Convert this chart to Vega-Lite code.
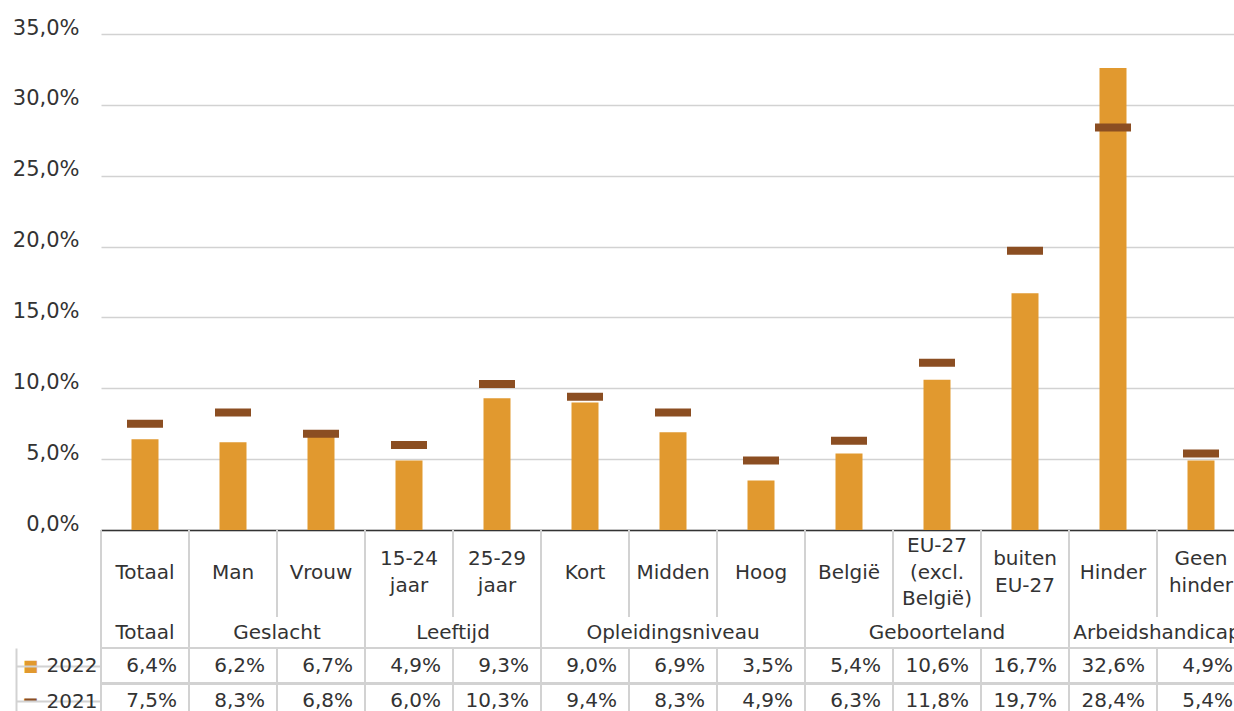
{
  "$schema": "https://vega.github.io/schema/vega-lite/v6.json",
  "autosize": {"type": "pad"},
  "padding": {"left": 12, "top": 17, "right": 0, "bottom": 0},
  "background": "white",
  "bounds": "flush",
  "spacing": 0,
  "config": {
    "view": {"stroke": null},
    "font": "DejaVu Sans",
    "locale": {"number": {"decimal": ",", "thousands": ".", "grouping": [3], "currency": ["€", ""]}},
    "axis": {"labelFont": "DejaVu Sans", "labelColor": "#333333"}
  },
  "datasets": {
    "cats": [
      {"cat": "Totaal", "label": ["Totaal"], "group": "Totaal", "2022": 0.064, "2021": 0.075},
      {"cat": "Man", "label": ["Man"], "group": "Geslacht", "2022": 0.062, "2021": 0.083},
      {"cat": "Vrouw", "label": ["Vrouw"], "group": "Geslacht", "2022": 0.067, "2021": 0.068},
      {"cat": "15-24 jaar", "label": ["15-24", "jaar"], "group": "Leeftijd", "2022": 0.049, "2021": 0.060},
      {"cat": "25-29 jaar", "label": ["25-29", "jaar"], "group": "Leeftijd", "2022": 0.093, "2021": 0.103},
      {"cat": "Kort", "label": ["Kort"], "group": "Opleidingsniveau", "2022": 0.090, "2021": 0.094},
      {"cat": "Midden", "label": ["Midden"], "group": "Opleidingsniveau", "2022": 0.069, "2021": 0.083},
      {"cat": "Hoog", "label": ["Hoog"], "group": "Opleidingsniveau", "2022": 0.035, "2021": 0.049},
      {"cat": "België", "label": ["België"], "group": "Geboorteland", "2022": 0.054, "2021": 0.063},
      {"cat": "EU-27 (excl. België)", "label": ["EU-27", "(excl.", "België)"], "group": "Geboorteland", "2022": 0.106, "2021": 0.118},
      {"cat": "buiten EU-27", "label": ["buiten", "EU-27"], "group": "Geboorteland", "2022": 0.167, "2021": 0.197},
      {"cat": "Hinder", "label": ["Hinder"], "group": "Arbeidshandicap", "2022": 0.326, "2021": 0.284},
      {"cat": "Geen hinder", "label": ["Geen", "hinder"], "group": "Arbeidshandicap", "2022": 0.049, "2021": 0.054}
    ]
  },
  "vconcat": [
    {
      "width": 1144,
      "height": 496,
      "data": {"name": "cats"},
      "encoding": {
        "x": {
          "field": "cat", "type": "nominal",
          "scale": {"domain": ["Totaal", "Man", "Vrouw", "15-24 jaar", "25-29 jaar", "Kort", "Midden", "Hoog", "België", "EU-27 (excl. België)", "buiten EU-27", "Hinder", "Geen hinder"], "paddingInner": 0, "paddingOuter": 0},
          "axis": {"labels": false, "ticks": false, "title": null, "domainColor": "#333333", "domainWidth": 1.5, "grid": false}
        }
      },
      "layer": [
        {
          "mark": {"type": "bar", "width": 27, "color": "#E1992F"},
          "encoding": {
            "y": {
              "field": "2022", "type": "quantitative",
              "scale": {"domain": [0, 0.35], "nice": false},
              "axis": {"values": [0, 0.05, 0.1, 0.15, 0.2, 0.25, 0.3, 0.35], "format": ".1%", "title": null, "ticks": false, "domain": false, "labelFontSize": 21, "labelPadding": 22, "labelBaseline": "alphabetic", "gridColor": "#D2D2D2", "gridWidth": 1.5}
            }
          }
        },
        {
          "mark": {"type": "tick", "size": 36, "thickness": 8, "color": "#8B4E22", "opacity": 1},
          "encoding": {"y": {"field": "2021", "type": "quantitative"}}
        }
      ]
    },
    {
      "width": 1144,
      "height": 87,
      "data": {"name": "cats"},
      "encoding": {
        "x": {
          "field": "cat", "type": "nominal",
          "scale": {"domain": ["Totaal", "Man", "Vrouw", "15-24 jaar", "25-29 jaar", "Kort", "Midden", "Hoog", "België", "EU-27 (excl. België)", "buiten EU-27", "Hinder", "Geen hinder"], "paddingInner": 0, "paddingOuter": 0},
          "axis": null
        }
      },
      "layer": [
        {
          "mark": {"type": "rule", "color": "#D2D2D2", "strokeWidth": 2},
          "encoding": {"x": {"field": "cat", "type": "nominal", "bandPosition": 0}}
        },
        {
          "transform": [{"filter": "length(datum.label) == 1"}],
          "mark": {"type": "text", "fontSize": 20, "lineHeight": 27, "color": "#333333", "baseline": "middle", "dy": -1},
          "encoding": {"text": {"field": "label", "type": "nominal"}}
        },
        {
          "transform": [{"filter": "length(datum.label) == 2"}],
          "mark": {"type": "text", "fontSize": 20, "lineHeight": 27, "color": "#333333", "baseline": "middle", "dy": -14.5},
          "encoding": {"text": {"field": "label", "type": "nominal"}}
        },
        {
          "transform": [{"filter": "length(datum.label) == 3"}],
          "mark": {"type": "text", "fontSize": 20, "lineHeight": 26.5, "color": "#333333", "baseline": "middle", "dy": -27.5},
          "encoding": {"text": {"field": "label", "type": "nominal"}}
        }
      ]
    },
    {
      "width": 1144,
      "height": 31,
      "layer": [
        {
          "data": {"values": [{"cat": "Totaal"}, {"cat": "Man"}, {"cat": "15-24 jaar"}, {"cat": "Kort"}, {"cat": "België"}, {"cat": "Hinder"}]},
          "mark": {"type": "rule", "color": "#D2D2D2", "strokeWidth": 2},
          "encoding": {
            "x": {
              "field": "cat", "type": "nominal", "bandPosition": 0,
              "scale": {"domain": ["Totaal", "Man", "Vrouw", "15-24 jaar", "25-29 jaar", "Kort", "Midden", "Hoog", "België", "EU-27 (excl. België)", "buiten EU-27", "Hinder", "Geen hinder"], "paddingInner": 0, "paddingOuter": 0},
              "axis": null
            }
          }
        },
        {
          "data": {"values": [{"group": "Totaal", "anchor": "Totaal"}, {"group": "Opleidingsniveau", "anchor": "Midden"}, {"group": "Geboorteland", "anchor": "EU-27 (excl. België)"}]},
          "mark": {"type": "text", "fontSize": 20, "color": "#333333", "baseline": "middle"},
          "encoding": {
            "x": {"field": "anchor", "type": "nominal", "bandPosition": 0.5},
            "text": {"field": "group", "type": "nominal"}
          }
        },
        {
          "data": {"values": [{"group": "Geslacht", "anchor": "Vrouw"}, {"group": "Leeftijd", "anchor": "25-29 jaar"}, {"group": "Arbeidshandicap", "anchor": "Geen hinder"}]},
          "mark": {"type": "text", "fontSize": 20, "color": "#333333", "baseline": "middle"},
          "encoding": {
            "x": {"field": "anchor", "type": "nominal", "bandPosition": 0},
            "text": {"field": "group", "type": "nominal"}
          }
        }
      ]
    },
    {
      "width": 1144,
      "height": 71,
      "data": {"name": "cats"},
      "transform": [{"fold": ["2022", "2021"], "as": ["year", "value"]}],
      "resolve": {"scale": {"y": "independent"}, "axis": {"y": "independent"}},
      "layer": [
        {
          "mark": {"type": "rule", "color": "#D2D2D2", "strokeWidth": 2},
          "encoding": {
            "x": {
              "field": "cat", "type": "nominal", "bandPosition": 0,
              "scale": {"domain": ["Totaal", "Man", "Vrouw", "15-24 jaar", "25-29 jaar", "Kort", "Midden", "Hoog", "België", "EU-27 (excl. België)", "buiten EU-27", "Hinder", "Geen hinder"], "paddingInner": 0, "paddingOuter": 0},
              "axis": null
            }
          }
        },
        {
          "mark": {"type": "rule", "color": "#D2D2D2", "strokeWidth": 2},
          "encoding": {
            "y": {
              "field": "year", "type": "nominal", "bandPosition": 0,
              "scale": {"domain": ["2022", "2021"], "paddingInner": 0, "paddingOuter": 0},
              "axis": {
                "orient": "left", "title": null, "offset": 85, "domain": true, "domainColor": "#D2D2D2", "domainWidth": 2,
                "ticks": false, "tickSize": 0, "labelPadding": -14, "labelAlign": "center", "labelBaseline": "middle",
                "labelExpr": "datum.value == '2022' ? '■' : '━'",
                "labelColor": {"condition": {"test": "datum.value == '2022'", "value": "#E1992F"}, "value": "#8B4E22"},
                "labelFontSize": {"condition": {"test": "datum.value == '2022'", "value": 16}, "value": 20}
              }
            }
          }
        },
        {
          "mark": {"type": "text", "fontSize": 20, "color": "#333333", "align": "right", "baseline": "middle", "dx": -12},
          "encoding": {
            "x": {"field": "cat", "type": "nominal", "bandPosition": 1},
            "y": {
              "field": "year", "type": "nominal",
              "scale": {"domain": ["2022", "2021"], "paddingInner": 0, "paddingOuter": 0},
              "axis": {
                "orient": "left", "title": null, "bandPosition": 0, "ticks": true, "tickSize": 85,
                "tickColor": "#D2D2D2", "tickWidth": 2, "labelPadding": -81, "domain": false, "labelFontSize": 20, "labelBaseline": "middle"
              }
            },
            "text": {"field": "value", "type": "quantitative", "format": ".1%"}
          }
        }
      ]
    }
  ]
}
